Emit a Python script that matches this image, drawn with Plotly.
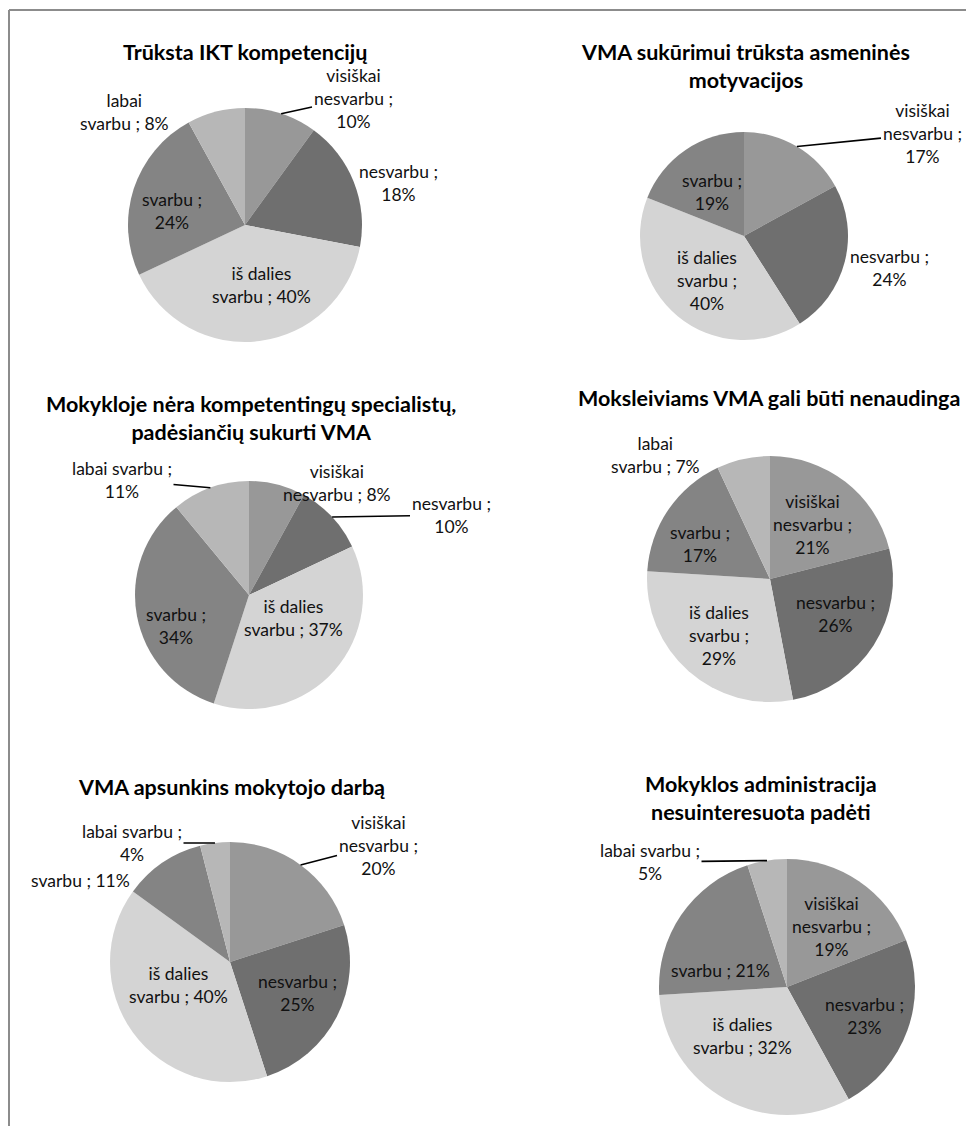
import math
import plotly.graph_objects as go

# page is 974x1134; the html body has an 8px margin, so the figure is offset
OX, OY = 8, 8
W, H = 974 - 2 * OX, 1134 - 2 * OY

# ---------------- data ----------------
categories = ["visiškai nesvarbu", "nesvarbu", "iš dalies svarbu", "svarbu", "labai svarbu"]

titles = [
    "Trūksta IKT kompetencijų",
    "VMA sukūrimui trūksta asmeninės<br>motyvacijos",
    "Mokykloje nėra kompetentingų specialistų,<br>padėsiančių sukurti VMA",
    "Moksleiviams VMA gali būti nenaudinga",
    "VMA apsunkins mokytojo darbą",
    "Mokyklos administracija<br>nesuinteresuota padėti",
]

values_ikt = [10, 18, 40, 24, 8]
values_motyvacija = [17, 24, 40, 19, 0]
values_specialistai = [8, 10, 37, 34, 11]
values_nenaudinga = [21, 26, 29, 17, 7]
values_apsunkins = [20, 25, 40, 11, 4]
values_administracija = [19, 23, 32, 21, 5]

all_values = [values_ikt, values_motyvacija, values_specialistai,
              values_nenaudinga, values_apsunkins, values_administracija]

# ---------------- styles / layout ----------------
colors = ["#989898", "#6f6f6f", "#d4d4d4", "#848484", "#b7b7b7"]
FONT = "Lato"
LABEL_SIZE = 17.5
TITLE_SIZE = 21.5

# per panel: pie centre (page px), radius (px), title centre (page px),
# label placement per category: (dx, dy from centre in px, token breaks, leader line)
panels = [
    dict(cx=245, cy=225, r=117, tx=245, ty=52,
         lab=[(108, -127, (1, 3), True), (153, -42, (2,), False), (16, 60, (2,), False),
              (-73, -14, (2,), False), (-121, -113, (1,), False)]),
    dict(cx=744, cy=236, r=104, tx=745, ty=66.5,
         lab=[(178, -102, (1, 3), True), (145, 32, (2,), False), (-37, 44, (2, 4), False),
              (-32, -44, (2,), False), None]),
    dict(cx=249, cy=595, r=114, tx=251, ty=417.5,
         lab=[(88, -112, (1,), False), (202, -80, (2,), True), (44, 23, (2,), False),
              (-73, 31, (2,), False), (-127, -115, (3,), True)]),
    dict(cx=770, cy=579, r=123, tx=769, ty=398,
         lab=[(42, -55, (1, 3), False), (65, 35, (2,), False), (-51, 56, (2, 4), False),
              (-70, -35, (2,), False), (-115, -124, (1,), False)]),
    dict(cx=230, cy=962, r=120, tx=231, ty=787,
         lab=[(148, -117, (1, 3), True), (67, 31, (2,), False), (-52, 23, (2,), False),
              (-150, -82, (), False), (-98, -119, (3,), True)]),
    dict(cx=787, cy=987, r=128, tx=761, ty=797.5,
         lab=[(44, -61, (1, 3), False), (77, 29, (2,), False), (-45, 49, (2,), False),
              (-67, -17, (), False), (-137, -125, (3,), True)]),
]


def px_to_paper(x, y):
    return (x - OX) / W, 1 - (y - OY) / H


def label_text(cat, val, breaks):
    tokens = cat.split() + [";", f"{val}%"]
    out = tokens[0]
    for i, t in enumerate(tokens[1:], start=1):
        out += ("<br>" if i in breaks else " ") + t
    return out


fig = go.Figure()
annotations = []

for p, vals, title in zip(panels, all_values, titles):
    cx, cy, r = p["cx"], p["cy"], p["r"]
    x0, y1 = px_to_paper(cx - r, cy - r)
    x1, y0 = px_to_paper(cx + r, cy + r)
    fig.add_trace(go.Pie(
        labels=categories,
        values=vals,
        sort=False,
        direction="clockwise",
        rotation=0,
        marker=dict(colors=colors, line=dict(width=0)),
        textinfo="none",
        hoverinfo="label+percent",
        showlegend=False,
        domain=dict(x=[x0, x1], y=[y0, y1]),
    ))

    # title
    tx, ty = px_to_paper(p["tx"], p["ty"])
    annotations.append(dict(
        x=tx, y=ty, xref="paper", yref="paper", xanchor="center", yanchor="middle",
        text=title, showarrow=False, align="center",
        font=dict(family=FONT, size=TITLE_SIZE, color="#000000", weight=700),
    ))

    total = sum(vals)
    cum = 0
    for cat, v, lab in zip(categories, vals, p["lab"]):
        start = cum
        cum += v
        if v == 0 or lab is None:
            continue
        dx, dy, breaks, leader = lab
        txt = label_text(cat, v, breaks)
        lx, ly = cx + dx, cy + dy
        if leader:
            mid = math.radians((start + v / 2) / total * 360)
            ex, ey = cx + r * math.sin(mid), cy - r * math.cos(mid)
            px_, py_ = px_to_paper(ex, ey)
            annotations.append(dict(
                x=px_, y=py_, xref="paper", yref="paper",
                ax=lx - ex, ay=ly - ey, axref="pixel", ayref="pixel",
                text=txt, showarrow=True, arrowhead=0, arrowwidth=1.6,
                arrowcolor="#000000", standoff=0, align="center",
                font=dict(family=FONT, size=LABEL_SIZE, color="#111111"),
            ))
        else:
            qx, qy = px_to_paper(lx, ly)
            annotations.append(dict(
                x=qx, y=qy, xref="paper", yref="paper", xanchor="center", yanchor="middle",
                text=txt, showarrow=False, align="center",
                font=dict(family=FONT, size=LABEL_SIZE, color="#111111"),
            ))

# frame lines (top and left)
fx, fy = px_to_paper(9, 10)
shapes = [
    dict(type="line", xref="paper", yref="paper", x0=fx, x1=1, y0=fy, y1=fy,
         line=dict(color="#8c8c8c", width=2)),
    dict(type="line", xref="paper", yref="paper", x0=fx, x1=fx, y0=0, y1=fy,
         line=dict(color="#8c8c8c", width=2)),
]

fig.update_layout(
    width=W, height=H,
    margin=dict(l=0, r=0, t=0, b=0),
    paper_bgcolor="#ffffff",
    plot_bgcolor="#ffffff",
    annotations=annotations,
    shapes=shapes,
    font=dict(family=FONT),
)

fig.write_html("out.html")
